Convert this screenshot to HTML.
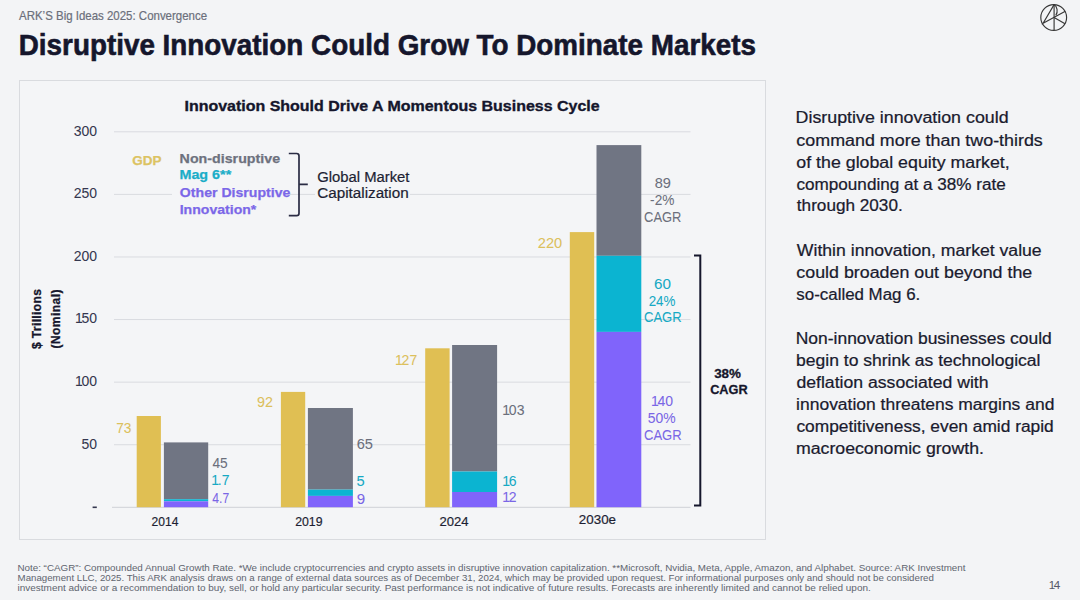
<!DOCTYPE html>
<html><head><meta charset="utf-8"><title>Disruptive Innovation Could Grow To Dominate Markets</title>
<style>
html,body{margin:0;padding:0;background:#f3f4f6;}
body{width:1080px;height:600px;overflow:hidden;font-family:'Liberation Sans', sans-serif;}
svg{display:block;font-family:'Liberation Sans', sans-serif;}
</style></head><body>
<svg width="1080" height="600" viewBox="0 0 1080 600">
<rect x="19.5" y="80.5" width="746" height="459" fill="#f4f5f7" stroke="#d9dbdf" stroke-width="1"/>
<line x1="114" x2="690.5" y1="444.72" y2="444.72" stroke="#d9dbe0" stroke-width="1"/>
<line x1="114" x2="690.5" y1="382.13" y2="382.13" stroke="#d9dbe0" stroke-width="1"/>
<line x1="114" x2="690.5" y1="319.55" y2="319.55" stroke="#d9dbe0" stroke-width="1"/>
<line x1="114" x2="690.5" y1="256.97" y2="256.97" stroke="#d9dbe0" stroke-width="1"/>
<line x1="114" x2="690.5" y1="194.38" y2="194.38" stroke="#d9dbe0" stroke-width="1"/>
<line x1="114" x2="690.5" y1="131.80" y2="131.80" stroke="#d9dbe0" stroke-width="1"/>
<line x1="112" x2="690.5" y1="507.3" y2="507.3" stroke="#cfd1d6" stroke-width="1"/>
<text x="97" y="448.62" font-size="14" fill="#34374f" text-anchor="end" stroke="#34374f" stroke-width="0.05">50</text>
<text x="97" y="386.03" font-size="14" fill="#34374f" text-anchor="end" stroke="#34374f" stroke-width="0.05">1<tspan dx="-1.3">00</tspan></text>
<text x="97" y="323.45" font-size="14" fill="#34374f" text-anchor="end" stroke="#34374f" stroke-width="0.05">1<tspan dx="-1.3">50</tspan></text>
<text x="97" y="260.87" font-size="14" fill="#34374f" text-anchor="end" stroke="#34374f" stroke-width="0.05">200</text>
<text x="97" y="198.28" font-size="14" fill="#34374f" text-anchor="end" stroke="#34374f" stroke-width="0.05">250</text>
<text x="97" y="135.70" font-size="14" fill="#34374f" text-anchor="end" stroke="#34374f" stroke-width="0.05">300</text>
<rect x="92.6" y="506.5" width="4.2" height="1.6" fill="#34374f"/>
<g transform="translate(40.7,319) rotate(-90)"><text x="0" y="0" font-size="12" font-weight="700" fill="#15162c" text-anchor="middle" textLength="60" lengthAdjust="spacing" stroke="#15162c" stroke-width="0.3">$ Trillions</text></g>
<g transform="translate(59.5,319) rotate(-90)"><text x="0" y="0" font-size="12" font-weight="700" fill="#15162c" text-anchor="middle" textLength="59" lengthAdjust="spacing" stroke="#15162c" stroke-width="0.3">(Nominal)</text></g>
<rect x="136.7" y="416.0" width="24.2" height="91.20" fill="#e0bf53"/>
<rect x="163.9" y="442.4" width="44.3" height="56.80" fill="#707583"/>
<rect x="163.9" y="499.2" width="44.3" height="2.10" fill="#0bb4d1"/>
<rect x="163.9" y="501.3" width="44.3" height="5.90" fill="#8064fb"/>
<rect x="280.9" y="391.9" width="24.3" height="115.30" fill="#e0bf53"/>
<rect x="307.9" y="408.0" width="45.0" height="81.60" fill="#707583"/>
<rect x="307.9" y="489.6" width="45.0" height="6.30" fill="#0bb4d1"/>
<rect x="307.9" y="495.9" width="45.0" height="11.30" fill="#8064fb"/>
<rect x="425.2" y="348.3" width="24.4" height="158.90" fill="#e0bf53"/>
<rect x="452.1" y="345.0" width="45.0" height="126.50" fill="#707583"/>
<rect x="452.1" y="471.5" width="45.0" height="20.50" fill="#0bb4d1"/>
<rect x="452.1" y="492.0" width="45.0" height="15.20" fill="#8064fb"/>
<rect x="569.8" y="232.1" width="24.4" height="275.10" fill="#e0bf53"/>
<rect x="596.5" y="145.1" width="44.8" height="110.70" fill="#707583"/>
<rect x="596.5" y="255.8" width="44.8" height="76.10" fill="#0bb4d1"/>
<rect x="596.5" y="331.9" width="44.8" height="175.30" fill="#8064fb"/>
<rect x="172" y="150" width="118" height="68" fill="#f4f5f7"/>
<rect x="315" y="168" width="95" height="34" fill="#f4f5f7"/>
<path d="M288.8 153.5 H296.6 Q299 153.5 299 155.9 V213.3 Q299 215.7 296.6 215.7 H288.8 M299 184.4 H307.8" fill="none" stroke="#2a2c44" stroke-width="1.7"/>
<path d="M694 255.6 H700.3 V505.6 H694" fill="none" stroke="#15162c" stroke-width="2"/>
<g fill="none" stroke="#383838" stroke-width="1.15"><circle cx="1053.7" cy="17.45" r="12.9"/><path d="M1054.1 4.6 V30.3"/><path d="M1054.1 4.6 L1043.1 23.2 L1065.3 11.3"/><path d="M1054.1 17.5 L1065 23.8"/><path d="M1054.1 4.6 C1057.2 6.5 1058.3 12 1055.8 15.3"/></g>
<text x="19.05" y="19.50" font-size="12.2" fill="#6b6f7b" font-weight="400" textLength="188.01" lengthAdjust="spacingAndGlyphs" stroke="#6b6f7b" stroke-width="0.2">ARK’S Big Ideas 2025: Convergence</text>
<text x="18.78" y="54.70" font-size="29.5" fill="#15162c" font-weight="700" textLength="737.22" lengthAdjust="spacingAndGlyphs" stroke="#15162c" stroke-width="0.6">Disruptive Innovation Could Grow To Dominate Markets</text>
<text x="184.46" y="111.40" font-size="15.3" fill="#15162c" font-weight="700" textLength="415.23" lengthAdjust="spacingAndGlyphs" stroke="#15162c" stroke-width="0.35">Innovation Should Drive A Momentous Business Cycle</text>
<text x="116.22" y="432.57" font-size="14" fill="#dcc05c" font-weight="400" textLength="15.25" lengthAdjust="spacingAndGlyphs" stroke="#dcc05c" stroke-width="0.05">73</text>
<text x="256.99" y="406.94" font-size="14" fill="#dcc05c" font-weight="400" textLength="15.93" lengthAdjust="spacingAndGlyphs" stroke="#dcc05c" stroke-width="0.05">92</text>
<text x="395.09" y="365.20" font-size="14" fill="#dcc05c" font-weight="400" stroke="#dcc05c" stroke-width="0.05">1<tspan dx="-1.30">2</tspan>7</text>
<text x="537.83" y="247.98" font-size="14" fill="#dcc05c" font-weight="400" textLength="24.44" lengthAdjust="spacingAndGlyphs" stroke="#dcc05c" stroke-width="0.05">220</text>
<text x="212.46" y="468.07" font-size="14" fill="#6b6f7c" font-weight="400" textLength="15.27" lengthAdjust="spacingAndGlyphs" stroke="#6b6f7c" stroke-width="0.05">45</text>
<text x="211.30" y="484.70" font-size="14" fill="#16a9c4" font-weight="400" stroke="#16a9c4" stroke-width="0.05">1<tspan dx="-1.30">.</tspan>7</text>
<text x="212.27" y="502.80" font-size="14" fill="#7a66e6" font-weight="400" textLength="16.90" lengthAdjust="spacingAndGlyphs" stroke="#7a66e6" stroke-width="0.05">4.7</text>
<text x="356.73" y="449.24" font-size="14" fill="#6b6f7c" font-weight="400" textLength="16.25" lengthAdjust="spacingAndGlyphs" stroke="#6b6f7c" stroke-width="0.05">65</text>
<text x="356.61" y="486.43" font-size="14" fill="#16a9c4" font-weight="400" textLength="8.17" lengthAdjust="spacingAndGlyphs" stroke="#16a9c4" stroke-width="0.05">5</text>
<text x="356.80" y="504.12" font-size="14" fill="#7a66e6" font-weight="400" textLength="8.40" lengthAdjust="spacingAndGlyphs" stroke="#7a66e6" stroke-width="0.05">9</text>
<text x="502.36" y="415.16" font-size="14" fill="#6b6f7c" font-weight="400" stroke="#6b6f7c" stroke-width="0.05">1<tspan dx="-1.30">0</tspan>3</text>
<text x="502.33" y="486.10" font-size="14" fill="#16a9c4" font-weight="400" stroke="#16a9c4" stroke-width="0.05">1<tspan dx="-1.30">6</tspan></text>
<text x="502.37" y="502.12" font-size="14" fill="#7a66e6" font-weight="400" stroke="#7a66e6" stroke-width="0.05">1<tspan dx="-1.30">2</tspan></text>
<text x="654.70" y="187.95" font-size="14" fill="#6b6f7c" font-weight="400" textLength="16.22" lengthAdjust="spacingAndGlyphs" stroke="#6b6f7c" stroke-width="0.05">89</text>
<text x="650.09" y="204.74" font-size="14" fill="#6b6f7c" font-weight="400" textLength="24.29" lengthAdjust="spacingAndGlyphs" stroke="#6b6f7c" stroke-width="0.05">-2%</text>
<text x="644.09" y="221.90" font-size="14" fill="#6b6f7c" font-weight="400" textLength="37.24" lengthAdjust="spacingAndGlyphs" stroke="#6b6f7c" stroke-width="0.05">CAGR</text>
<text x="653.95" y="288.59" font-size="14" fill="#16a9c4" font-weight="400" textLength="16.90" lengthAdjust="spacingAndGlyphs" stroke="#16a9c4" stroke-width="0.05">60</text>
<text x="648.68" y="305.73" font-size="14" fill="#16a9c4" font-weight="400" textLength="26.81" lengthAdjust="spacingAndGlyphs" stroke="#16a9c4" stroke-width="0.05">24%</text>
<text x="644.01" y="321.90" font-size="14" fill="#16a9c4" font-weight="400" textLength="37.65" lengthAdjust="spacingAndGlyphs" stroke="#16a9c4" stroke-width="0.05">CAGR</text>
<text x="650.88" y="406.46" font-size="14" fill="#7a66e6" font-weight="400" stroke="#7a66e6" stroke-width="0.05">1<tspan dx="-1.30">4</tspan>0</text>
<text x="647.87" y="423.10" font-size="14" fill="#7a66e6" font-weight="400" textLength="27.88" lengthAdjust="spacingAndGlyphs" stroke="#7a66e6" stroke-width="0.05">50%</text>
<text x="644.01" y="439.90" font-size="14" fill="#7a66e6" font-weight="400" textLength="37.65" lengthAdjust="spacingAndGlyphs" stroke="#7a66e6" stroke-width="0.05">CAGR</text>
<text x="714.14" y="377.78" font-size="13.5" fill="#15162c" font-weight="700" textLength="26.86" lengthAdjust="spacingAndGlyphs" stroke="#15162c" stroke-width="0.3">38%</text>
<text x="710.15" y="394.00" font-size="13.5" fill="#15162c" font-weight="700" textLength="37.51" lengthAdjust="spacingAndGlyphs" stroke="#15162c" stroke-width="0.3">CAGR</text>
<text x="151.53" y="525.54" font-size="13" fill="#1d1f33" font-weight="400" textLength="26.87" lengthAdjust="spacingAndGlyphs" stroke="#1d1f33" stroke-width="0.2">2014</text>
<text x="295.19" y="525.55" font-size="13" fill="#1d1f33" font-weight="400" textLength="27.35" lengthAdjust="spacingAndGlyphs" stroke="#1d1f33" stroke-width="0.2">2019</text>
<text x="439.51" y="525.57" font-size="13" fill="#1d1f33" font-weight="400" textLength="29.10" lengthAdjust="spacingAndGlyphs" stroke="#1d1f33" stroke-width="0.2">2024</text>
<text x="578.88" y="524.47" font-size="13" fill="#1d1f33" font-weight="400" textLength="37.19" lengthAdjust="spacingAndGlyphs" stroke="#1d1f33" stroke-width="0.2">2030e</text>
<text x="132.14" y="164.70" font-size="13.5" fill="#dcc363" font-weight="700" textLength="-60.02" lengthAdjust="spacingAndGlyphs" stroke="#dcc363" stroke-width="0.25">GDP</text>
<text x="179.63" y="163.40" font-size="13.5" fill="#6d717e" font-weight="700" textLength="100.46" lengthAdjust="spacingAndGlyphs" stroke="#6d717e" stroke-width="0.25">Non-disruptive</text>
<text x="179.49" y="179.00" font-size="13.5" fill="#1aadc8" font-weight="700" textLength="51.73" lengthAdjust="spacingAndGlyphs" stroke="#1aadc8" stroke-width="0.25">Mag 6**</text>
<text x="179.87" y="197.10" font-size="13.5" fill="#7b67e8" font-weight="700" textLength="110.49" lengthAdjust="spacingAndGlyphs" stroke="#7b67e8" stroke-width="0.25">Other Disruptive</text>
<text x="179.65" y="213.60" font-size="13.5" fill="#7b67e8" font-weight="700" textLength="76.72" lengthAdjust="spacingAndGlyphs" stroke="#7b67e8" stroke-width="0.25">Innovation*</text>
<text x="317.23" y="181.70" font-size="14" fill="#1d1f33" font-weight="400" textLength="92.28" lengthAdjust="spacingAndGlyphs" stroke="#1d1f33" stroke-width="0.2">Global Market</text>
<text x="317.22" y="197.70" font-size="14" fill="#1d1f33" font-weight="400" textLength="91.47" lengthAdjust="spacingAndGlyphs" stroke="#1d1f33" stroke-width="0.2">Capitalization</text>
<text x="795.64" y="123.40" font-size="15.6" fill="#1a1b2e" font-weight="400" textLength="212.97" lengthAdjust="spacingAndGlyphs" stroke="#1a1b2e" stroke-width="0.22">Disruptive innovation could</text>
<text x="796.38" y="145.50" font-size="15.6" fill="#1a1b2e" font-weight="400" textLength="246.44" lengthAdjust="spacingAndGlyphs" stroke="#1a1b2e" stroke-width="0.22">command more than two-thirds</text>
<text x="796.35" y="167.50" font-size="15.6" fill="#1a1b2e" font-weight="400" textLength="213.39" lengthAdjust="spacingAndGlyphs" stroke="#1a1b2e" stroke-width="0.22">of the global equity market,</text>
<text x="796.47" y="189.50" font-size="15.6" fill="#1a1b2e" font-weight="400" textLength="209.34" lengthAdjust="spacingAndGlyphs" stroke="#1a1b2e" stroke-width="0.22">compounding at a 38% rate</text>
<text x="796.85" y="211.40" font-size="15.6" fill="#1a1b2e" font-weight="400" textLength="105.86" lengthAdjust="spacingAndGlyphs" stroke="#1a1b2e" stroke-width="0.22">through 2030.</text>
<text x="796.89" y="255.60" font-size="15.6" fill="#1a1b2e" font-weight="400" textLength="244.80" lengthAdjust="spacingAndGlyphs" stroke="#1a1b2e" stroke-width="0.22">Within innovation, market value</text>
<text x="796.37" y="277.60" font-size="15.6" fill="#1a1b2e" font-weight="400" textLength="235.87" lengthAdjust="spacingAndGlyphs" stroke="#1a1b2e" stroke-width="0.22">could broaden out beyond the</text>
<text x="796.35" y="299.60" font-size="15.6" fill="#1a1b2e" font-weight="400" textLength="123.89" lengthAdjust="spacingAndGlyphs" stroke="#1a1b2e" stroke-width="0.22">so-called Mag 6.</text>
<text x="795.76" y="343.60" font-size="15.6" fill="#1a1b2e" font-weight="400" textLength="256.01" lengthAdjust="spacingAndGlyphs" stroke="#1a1b2e" stroke-width="0.22">Non-innovation businesses could</text>
<text x="796.04" y="365.60" font-size="15.6" fill="#1a1b2e" font-weight="400" textLength="244.48" lengthAdjust="spacingAndGlyphs" stroke="#1a1b2e" stroke-width="0.22">begin to shrink as technological</text>
<text x="796.40" y="387.60" font-size="15.6" fill="#1a1b2e" font-weight="400" textLength="192.14" lengthAdjust="spacingAndGlyphs" stroke="#1a1b2e" stroke-width="0.22">deflation associated with</text>
<text x="796.11" y="409.60" font-size="15.6" fill="#1a1b2e" font-weight="400" textLength="258.24" lengthAdjust="spacingAndGlyphs" stroke="#1a1b2e" stroke-width="0.22">innovation threatens margins and</text>
<text x="796.42" y="431.60" font-size="15.6" fill="#1a1b2e" font-weight="400" textLength="257.34" lengthAdjust="spacingAndGlyphs" stroke="#1a1b2e" stroke-width="0.22">competitiveness, even amid rapid</text>
<text x="795.96" y="453.60" font-size="15.6" fill="#1a1b2e" font-weight="400" textLength="188.02" lengthAdjust="spacingAndGlyphs" stroke="#1a1b2e" stroke-width="0.22">macroeconomic growth.</text>
<text x="17.48" y="570.90" font-size="9.5" fill="#60646f" font-weight="400" textLength="947.99" lengthAdjust="spacingAndGlyphs">Note: “CAGR”: Compounded Annual Growth Rate. *We include cryptocurrencies and crypto assets in disruptive innovation capitalization. **Microsoft, Nvidia, Meta, Apple, Amazon, and Alphabet. Source: ARK Investment</text>
<text x="17.62" y="581.20" font-size="9.5" fill="#60646f" font-weight="400" textLength="916.28" lengthAdjust="spacingAndGlyphs">Management LLC, 2025. This ARK analysis draws on a range of external data sources as of December 31, 2024, which may be provided upon request. For informational purposes only and should not be considered</text>
<text x="17.56" y="590.80" font-size="9.5" fill="#60646f" font-weight="400" textLength="853.21" lengthAdjust="spacingAndGlyphs">investment advice or a recommendation to buy, sell, or hold any particular security. Past performance is not indicative of future results. Forecasts are inherently limited and cannot be relied upon.</text>
<text x="1048.73" y="588.89" font-size="11.5" fill="#55596a" font-weight="400" stroke="#55596a" stroke-width="0.05">1<tspan dx="-1.30">4</tspan></text>
</svg>
</body></html>
